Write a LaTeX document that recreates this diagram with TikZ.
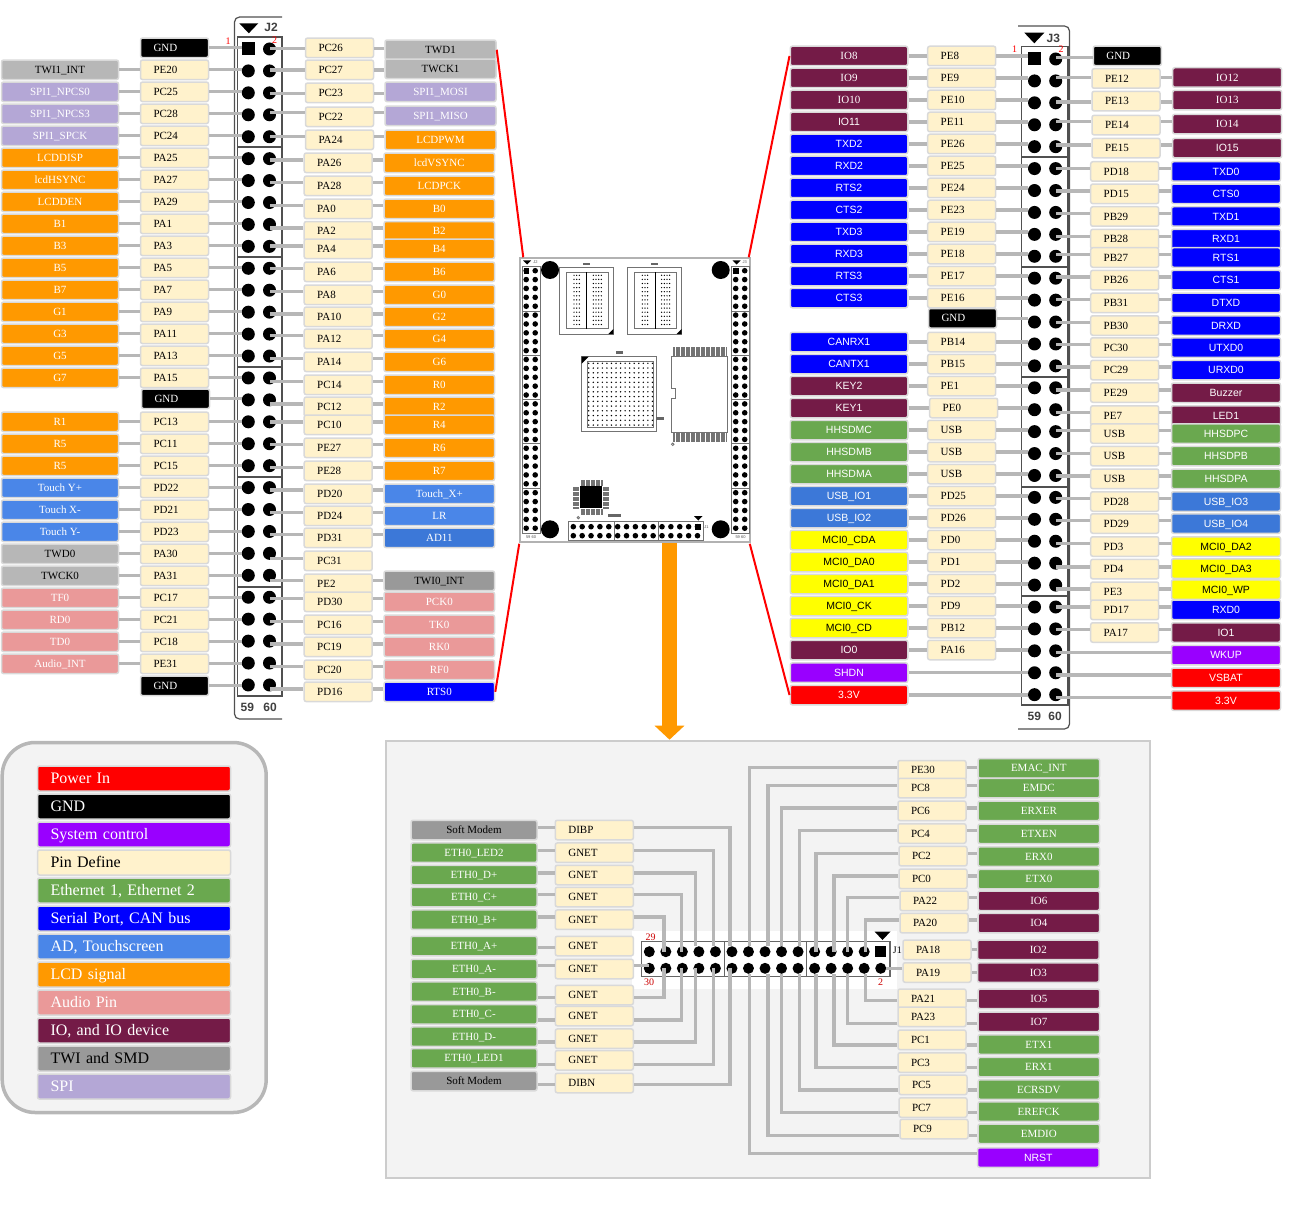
\documentclass[tikz,border=0pt]{standalone}
\usepackage{xcolor}
\usepackage{fontspec}
\usepackage{tikz}
\usetikzlibrary{arrows.meta,positioning,calc}
\setmainfont{Liberation Serif}
\setsansfont{Liberation Sans}
\definecolor{boxedge}{HTML}{D9D9D9}
\definecolor{pinfill}{HTML}{FFF2CC}
\definecolor{wiregrey}{HTML}{B7B7B7}
\definecolor{twigrey}{HTML}{B7B7B7}
\definecolor{twidark}{HTML}{999999}
\definecolor{spipurple}{HTML}{B4A7D6}
\definecolor{lcdorange}{HTML}{FF9900}
\definecolor{touchblue}{HTML}{4A86E8}
\definecolor{adblue}{HTML}{3C78D8}
\definecolor{audiopink}{HTML}{EA9999}
\definecolor{serialblue}{HTML}{0000FF}
\definecolor{iowine}{HTML}{741B47}
\definecolor{ethgreen}{HTML}{6AA84F}
\definecolor{syspurple}{HTML}{9900FF}
\definecolor{mciyellow}{HTML}{FFFF00}
\definecolor{powerred}{HTML}{FF0000}
\definecolor{panelgrey}{HTML}{F3F3F3}
\definecolor{hdrgrey}{HTML}{505050}

\begin{document}
\begin{tikzpicture}[
  x=1pt,y=-1pt,
  sigbox/.style={draw=boxedge,rounded corners=2pt,line width=1.5pt,minimum height=19.5pt,inner sep=0pt,text height=7.3pt,text depth=0pt,yshift=-0.8pt,font=\fontsize{11}{13}\selectfont},
  sfbox/.style={sigbox,font=\fontsize{10.5}{13}\selectfont\sffamily},
  pinbox/.style={sigbox,fill=pinfill,align=left,text width=42pt,inner xsep=13pt},
  gnd/.style={pinbox,fill=black,text=white},
  twi/.style={sigbox,fill=twigrey},
  twid/.style={sigbox,fill=twidark},
  spi/.style={sigbox,fill=spipurple,text=white},
  lcd/.style={sigbox,fill=lcdorange,text=white},
  touch/.style={sigbox,fill=touchblue,text=white},
  ad/.style={sigbox,fill=adblue,text=white},
  audio/.style={sigbox,fill=audiopink,text=white},
  serialrm/.style={sigbox,fill=serialblue,text=white},
  serial/.style={sfbox,fill=serialblue,text=white},
  io/.style={sigbox,fill=iowine,text=white},
  iosf/.style={sfbox,fill=iowine,text=white},
  eth/.style={sigbox,fill=ethgreen,text=white},
  hhs/.style={sfbox,fill=ethgreen,text=white},
  usbio/.style={sfbox,fill=adblue,text=white},
  mci/.style={sfbox,fill=mciyellow},
  system/.style={sfbox,fill=syspurple,text=white},
  power/.style={sfbox,fill=powerred,text=white},
  legbox/.style={draw=boxedge,rounded corners=2pt,line width=1.5pt,minimum height=25pt,align=left,text width=167pt,inner xsep=13pt,inner ysep=0pt,text height=10.6pt,text depth=0pt,yshift=-0.2pt,font=\fontsize{16}{18}\selectfont},
  pad/.style={circle,fill=black,minimum size=13pt,inner sep=0pt},
  padsq/.style={rectangle,fill=black,minimum size=13pt,inner sep=0pt},
  wire/.style={draw=wiregrey,line width=3.2pt},
  hdr/.style={draw=hdrgrey,line width=1.2pt},
  hdrlabel/.style={inner sep=0pt,text=black!75,font=\fontsize{12}{13}\selectfont\sffamily\bfseries},
  num/.style={inner sep=0pt,text=red,font=\fontsize{10}{11}\selectfont},
  redline/.style={draw=red,line width=2pt},
  chip/.style={draw=black!55,line width=0.8pt},
  tinylabel/.style={font=\fontsize{4}{5}\selectfont\sffamily,text=hdrgrey,inner sep=0pt}
]
\useasboundingbox (0,0) rectangle (1300,1206);

\node[draw=wiregrey,fill=panelgrey,line width=3.5pt,rounded corners=33pt,minimum width=264pt,minimum height=370pt] (legend) at (134.2,927.5) {};
\foreach \i/\col/\tcol/\txt in {
  1/powerred/white/Power In,
  2/black/white/GND,
  3/syspurple/white/System control,
  4/pinfill/black/Pin Define,
  5/ethgreen/white/{Ethernet 1, Ethernet 2},
  6/serialblue/white/{Serial Port, CAN bus},
  7/touchblue/white/{AD, Touchscreen},
  8/lcdorange/white/LCD signal,
  9/audiopink/white/Audio Pin,
  10/iowine/white/{IO, and IO device},
  11/twidark/black/TWI and SMD,
  12/spipurple/white/SPI}{
  \node[legbox,fill=\col,text=\tcol] (leg\i) at (134,{750.3+28*\i}) {\txt};
}

\node[draw=black!20,fill=panelgrey,line width=2pt,minimum width=764pt,minimum height=437pt] (panel) at (767.7,959.2) {};

\node[draw=black!30,fill=white,line width=1.5pt,minimum width=230pt,minimum height=284pt] (board) at (635,400) {};
\draw[-{Triangle[width=29pt,length=14pt]},draw=lcdorange,fill=lcdorange,line width=15pt] (669.5,0 |- board.south) -- (669.5,0 |- panel.north);

\foreach \x in {522,731.5}{
  \draw[chip] (\x,266.7) rectangle ++(18,266.3);
  \foreach \y in {311,355.3,399.3,443.7,488} \draw[chip] (\x,\y) -- ++(18,0);
  \foreach \i in {0,...,29}{
    \fill ({\x+4.2},{270.7+8.88*\i}) circle (2.8pt);
    \fill ({\x+13.2},{270.7+8.88*\i}) circle (2.8pt);
  }
  \fill ({\x+1},260.5) -- ++(8,0) -- ++(-4,4) -- cycle;
}
\fill[black] (523.5,268.2) rectangle (529,273.5);
\fill[black] (733,268.2) rectangle (738.7,273.5);
\node[tinylabel] (tinyjb) at (535.5,262) {J2};
\node[tinylabel] (tinyjc) at (744.7,262) {J3};
\node[tinylabel] (tinyfl) at (531,536.7) {59 60};
\node[tinylabel] (tinyfr) at (740.5,536.7) {59 60};
\fill (550,270) circle (9pt);
\fill (720.7,270) circle (9pt);
\fill (550,529.3) circle (9pt);
\fill (720.7,529.3) circle (9pt);

\foreach \dx in {0,68.3}{
  \draw[chip] ({559.3+\dx},267) rectangle ({613.3+\dx},334);
  \draw[chip] ({566+\dx},272) rectangle ({608.3+\dx},328.7);
  \draw[line width=1pt] ({586.7+\dx},272) -- ({586.7+\dx},328.7);
  \fill ({613.3+\dx},334) -- ++(-5,0) -- ++(5,-5) -- cycle;
  \foreach \i in {0,...,12}
    \foreach \cx in {574,576.7,579.3,593.3,596,598.7,601.3}
      \fill ({\cx+\dx},{275.3+4.1*\i}) circle (0.7pt);
  \fill[black!60] ({583+\dx},262.5) rectangle ({590+\dx},265);
}
\draw[chip,line width=1.2pt] (581.7,356.7) rectangle (656.7,431.7);
\draw[chip] (587,361.5) rectangle (653,427);
\fill (581.7,356.7) -- ++(7,0) -- ++(-7,7) -- cycle;
\foreach \i in {0,...,14}
  \foreach \j in {0,...,13}
    \fill ({588.7+4.55*\i},{363.3+4.75*\j}) circle (0.8pt);
\fill[black!60] (616,351) rectangle (623,354);
\fill[black!60] (656,417) rectangle (664,420);

\foreach \i in {0,...,42}{
  \draw[black!55,line width=0.6pt] ({673.3+1.25*\i},347) -- ++(0,9);
  \draw[black!55,line width=0.6pt] ({673.3+1.25*\i},433) -- ++(0,9);
}
\draw[chip] (671.7,356) -- (727.7,356) -- (727.7,432.7) -- (671.7,432.7) -- (671.7,398.3) -- (675,398.3) -- (675,388) -- (671.7,388) -- cycle;
\draw[chip] (672.7,444.3) circle (1.3pt);

\foreach \i in {0,...,17}{
  \draw[black!55,line width=0.6pt] ({581+1.25*\i},480) -- ++(0,6);
  \draw[black!55,line width=0.6pt] ({581+1.25*\i},509) -- ++(0,6);
  \draw[black!55,line width=0.6pt] (573.3,{487+1.25*\i}) -- ++(6,0);
  \draw[black!55,line width=0.6pt] (603,{487+1.25*\i}) -- ++(5.5,0);
}
\fill (580,486) rectangle (602.3,508.3);
\draw[chip] (578.3,517.7) circle (1.2pt);
\fill[black!60] (608,514) rectangle (621,517);

\draw[chip] (568.3,521.7) rectangle (703.3,540.7);
\draw[chip] (614.3,521.7) -- (614.3,540.7);
\draw[chip] (658.3,521.7) -- (658.3,540.7);
\foreach \i in {0,...,14}{
  \fill ({573.3+8.87*\i},526.7) circle (2.8pt);
  \fill ({573.3+8.87*\i},535.7) circle (2.8pt);
}
\fill (694.5,523.7) rectangle (700.6,529.8);
\fill (694,516) -- ++(8.5,0) -- ++(-4.2,4.5) -- cycle;
\node[tinylabel] (tinyja) at (706.5,527) {J1};

\draw[hdr] (282,17) -- (240,17) [rounded corners=5pt] -- (234.5,17) -- (234.5,719) -- (282,719);
\draw[hdr] (237.5,37) -- (282,37) -- (282,696) -- (237.5,696) -- cycle;
\foreach \y in {147,257,367,477,587} \draw[hdr] (237.5,\y) -- (282,\y);
\fill (239.3,23.3) -- (258.3,23.3) -- (248.8,33.3) -- cycle;
\node[hdrlabel] (j2title) at (271,27.5) {J2};
\node[hdrlabel] (j2fa) at (247.3,707.7) {59};
\node[hdrlabel] (j2fb) at (270,707.7) {60};
\node[padsq] (j2a1) at (248.3,49) {};
\foreach \i in {2,...,30} \node[pad] (j2a\i) at (248.3,{27.07+21.93*\i}) {};
\foreach \i in {1,...,30} \node[pad] (j2b\i) at (269.5,{27.07+21.93*\i}) {};
\node[num] (j2n1) at (228,41) {1};
\node[num] (j2n2) at (274.5,40) {2};

\draw[hdr] (1018,26) [rounded corners=5pt] -- (1069.5,26) -- (1069.5,729) -- (1018,729);
\draw[hdr] (1021.7,46.7) rectangle (1068,705);
\foreach \y in {157,267,377,487,596} \draw[hdr] (1021.7,\y) -- (1068,\y);
\fill (1024.3,32.7) -- (1044.3,32.7) -- (1034.3,43.3) -- cycle;
\node[hdrlabel] (j3title) at (1053.3,38.3) {J3};
\node[hdrlabel] (j3fa) at (1034.3,716.7) {59};
\node[hdrlabel] (j3fb) at (1055,716.7) {60};
\node[padsq] (j3a1) at (1034.5,59) {};
\foreach \i in {2,...,30} \node[pad] (j3a\i) at (1034.5,{37.08+21.92*\i}) {};
\foreach \i in {1,...,30} \node[pad] (j3b\i) at (1055.7,{37.08+21.92*\i}) {};
\node[num] (j3n1) at (1014.5,49) {1};
\node[num] (j3n2) at (1061,49) {2};

\node[gnd] (j2p1) at (174.5,47) {GND};
\draw[wire] (j2p1) -- (j2p1.east -| j2a1.west);
\foreach \i/\y/\pin/\sig/\kind in {
  2/69/PE20/TWI1\_INT/twi,
  3/91/PC25/SPI1\_NPCS0/spi,
  4/113/PC28/SPI1\_NPCS3/spi,
  5/135/PC24/SPI1\_SPCK/spi,
  6/157/PA25/LCDDISP/lcd,
  7/179/PA27/lcdHSYNC/lcd,
  8/201/PA29/LCDDEN/lcd,
  9/223/PA1/B1/lcd,
  10/245/PA3/B3/lcd,
  11/267/PA5/B5/lcd,
  12/289/PA7/B7/lcd,
  13/311/PA9/G1/lcd,
  14/333/PA11/G3/lcd,
  15/355/PA13/G5/lcd,
  16/377/PA15/G7/lcd,
  18/421/PC13/R1/lcd,
  19/443/PC11/R5/lcd,
  20/465/PC15/R5/lcd,
  21/487/PD22/Touch Y+/touch,
  22/509/PD21/Touch X-/touch,
  23/531/PD23/Touch Y-/touch,
  24/553/PA30/TWD0/twi,
  25/575/PA31/TWCK0/twi,
  26/597/PC17/TF0/audio,
  27/619/PC21/RD0/audio,
  28/641/PC18/TD0/audio,
  29/663/PE31/Audio\_INT/audio}{
  \node[pinbox] (j2p\i) at (174.5,\y) {\pin};
  \node[\kind,minimum width=117pt] (j2s\i) at (60,\y) {\sig};
  \draw[wire] (j2s\i) -- (j2p\i);
  \draw[wire] (j2p\i) -- (j2p\i.east -| j2a\i.west);
}
\node[gnd] (j2p17) at (175.5,398) {GND};
\draw[wire] (j2p17) -- (j2p17.east -| j2a17.west);
\node[gnd] (j2p30) at (174.5,685) {GND};
\draw[wire] (j2p30) -- (j2p30.east -| j2a30.west);

\foreach \i/\py/\sy/\ly/\pin/\sig/\kind in {
  1/47/49/48.7/PC26/TWD1/twi,
  2/69/68/70/PC27/TWCK1/twi,
  3/92/91/93.3/PC23/SPI1\_MOSI/spi,
  4/116/115/112.7/PC22/SPI1\_MISO/spi,
  5/139/139/136.7/PA24/LCDPWM/lcd}{
  \node[pinbox] (j2q\i) at (339.5,\py) {\pin};
  \node[\kind,minimum width=111pt] (j2r\i) at (440.5,\sy) {\sig};
  \draw[wire] (j2r\i.west |- 0,\ly) -- (j2q\i.east |- 0,\ly);
  \draw[wire] (j2q\i.west |- 0,\ly) -- (j2b\i |- 0,\ly);
}
\foreach \i/\py/\sy/\ly/\pin/\sig/\kind in {
  6/162/162/160/PA26/lcdVSYNC/lcd,
  7/185/185/182.7/PA28/LCDPCK/lcd,
  8/208/208/205.7/PA0/B0/lcd,
  9/230.5/230.5/228/PA2/B2/lcd,
  10/248/248/246/PA4/B4/lcd,
  11/271/271/268.7/PA6/B6/lcd,
  12/294/294/291.3/PA8/G0/lcd,
  13/316/316/314/PA10/G2/lcd,
  14/338/338/335.7/PA12/G4/lcd,
  15/361/361/358.7/PA14/G6/lcd,
  16/384/384/381.3/PC14/R0/lcd,
  17/406/406/404/PC12/R2/lcd,
  18/424/424/422/PC10/R4/lcd,
  19/447/447/444.7/PE27/R6/lcd,
  20/470/470/467.3/PE28/R7/lcd,
  21/493/493/490/PD20/Touch\_X+/touch,
  22/515/515/512.7/PD24/LR/touch,
  23/537/537/534.7/PD31/AD11/ad,
  25/583/580/580.7/PE2/TWI0\_INT/twid,
  26/601/601/598.7/PD30/PCK0/audio,
  27/624/624/621.3/PC16/TK0/audio,
  28/646/646/644/PC19/RK0/audio,
  29/669/669/666.7/PC20/RF0/audio,
  30/691/691/689/PD16/RTS0/serialrm}{
  \node[pinbox] (j2q\i) at (338.2,\py) {\pin};
  \node[\kind,minimum width=110.5pt] (j2r\i) at (439.3,\sy) {\sig};
  \draw[wire] (j2r\i.west |- 0,\ly) -- (j2q\i.east |- 0,\ly);
  \draw[wire] (j2q\i.west |- 0,\ly) -- (j2b\i |- 0,\ly);
}
\node[pinbox] (j2q24) at (338.2,560) {PC31};
\draw[wire] (j2q24.west |- 0,558.3) -- (j2b24 |- 0,558.3);

\foreach \i/\y/\pin/\sig/\kind in {
  1/55.2/PE8/IO8/io,
  2/77.2/PE9/IO9/io,
  3/99.2/PE10/IO10/io,
  4/121.2/PE11/IO11/iosf,
  5/143.2/PE26/TXD2/serial,
  6/165.2/PE25/RXD2/serial,
  7/187.2/PE24/RTS2/serial,
  8/209.2/PE23/CTS2/serial,
  9/231.2/PE19/TXD3/serial,
  10/253.2/PE18/RXD3/serial,
  11/275.2/PE17/RTS3/serial,
  12/297.2/PE16/CTS3/serial,
  14/341.2/PB14/CANRX1/serial,
  15/363.2/PB15/CANTX1/serial,
  16/385.2/PE1/KEY2/iosf,
  18/429.2/USB/HHSDMC/hhs,
  19/451.2/USB/HHSDMB/hhs,
  20/473.2/USB/HHSDMA/hhs,
  21/495.2/PD25/USB\_IO1/usbio,
  22/517.2/PD26/USB\_IO2/usbio,
  23/539.2/PD0/MCI0\_CDA/mci,
  24/561.2/PD1/MCI0\_DA0/mci,
  25/583.2/PD2/MCI0\_DA1/mci,
  26/605.2/PD9/MCI0\_CK/mci,
  27/627.2/PB12/MCI0\_CD/mci,
  28/649.2/PA16/IO0/iosf}{
  \node[pinbox] (j3p\i) at (961.7,\y) {\pin};
  \node[\kind,minimum width=117.5pt] (j3s\i) at (849,\y) {\sig};
  \draw[wire] (j3s\i) -- (j3p\i);
  \draw[wire] (j3p\i) -- (j3p\i.east -| j3a\i.west);
}
\node[gnd] (j3p13) at (962.5,317.5) {GND};
\draw[wire] (j3p13) -- (j3p13.east -| j3a13.west);
\node[pinbox] (j3p17) at (963.7,407.2) {PE0};
\node[iosf,minimum width=117.5pt] (j3s17) at (849,407.2) {KEY1};
\draw[wire] (j3s17) -- (j3p17);
\draw[wire] (j3p17) -- (j3p17.east -| j3a17.west);
\node[system,minimum width=117.5pt] (j3s29) at (849,671.9) {SHDN};
\draw[wire] (j3s29) -- (j3s29.east -| j3a29.west);
\node[power,minimum width=117.5pt] (j3s30) at (849,694.2) {3.3V};
\draw[wire] (j3s30) -- (j3s30.east -| j3a30.west);

\node[gnd] (j3q1) at (1127.3,55) {GND};
\draw[wire] (j3q1.west |- 0,57.3) -- (j3b1 |- 0,57.3);
\foreach \i/\py/\sy/\ly/\pin/\sig/\kind in {
  2/77.7/76.7/77.7/PE12/IO12/io,
  3/100.3/99.3/102/PE13/IO13/io,
  4/124.3/123.3/121.7/PE14/IO14/io,
  5/147.3/147.3/145/PE15/IO15/iosf}{
  \node[pinbox] (j3q\i) at (1126,\py) {\pin};
  \node[\kind,minimum width=109pt] (j3r\i) at (1227.2,\sy) {\sig};
  \draw[wire] (j3r\i.west |- 0,\ly) -- (j3q\i.east |- 0,\ly);
  \draw[wire] (j3q\i.west |- 0,\ly) -- (j3b\i |- 0,\ly);
}
\foreach \i/\py/\sy/\ly/\pin/\sig/\kind in {
  6/170.7/170.7/168.3/PD18/TXD0/serial,
  7/193/193/191/PD15/CTS0/serial,
  8/215.7/215.7/213.7/PB29/TXD1/serial,
  9/238.3/238.3/236.7/PB28/RXD1/serial,
  10/256.7/256.7/254.7/PB27/RTS1/serial,
  11/279.3/279.3/277/PB26/CTS1/serial,
  12/302/302/299.7/PB31/DTXD/serial,
  13/324.7/324.7/322.3/PB30/DRXD/serial,
  14/346.7/346.7/344.3/PC30/UTXD0/serial,
  15/369.3/369.3/367/PC29/URXD0/serial,
  16/391.7/392/390/PE29/Buzzer/iosf,
  17/414.7/414.7/412.7/PE7/LED1/iosf,
  18/432.7/432.7/430.7/USB/HHSDPC/hhs,
  19/455.3/455.3/453.3/USB/HHSDPB/hhs,
  20/478/478/476/USB/HHSDPA/hhs,
  21/500.7/500.7/498.7/PD28/USB\_IO3/usbio,
  22/522.7/522.7/520.7/PD29/USB\_IO4/usbio,
  23/545.7/545.7/543.7/PD3/MCI0\_DA2/mci,
  24/568.3/567.7/567/PD4/MCI0\_DA3/mci,
  25/591/588.7/589/PE3/MCI0\_WP/mci,
  26/609/609/607/PD17/RXD0/serial,
  27/631.7/631.7/629.7/PA17/IO1/iosf}{
  \node[pinbox] (j3q\i) at (1124.7,\py) {\pin};
  \node[\kind,minimum width=109pt] (j3r\i) at (1226,\sy) {\sig};
  \draw[wire] (j3r\i.west |- 0,\ly) -- (j3q\i.east |- 0,\ly);
  \draw[wire] (j3q\i.west |- 0,\ly) -- (j3b\i |- 0,\ly);
}
\foreach \i/\sy/\ly/\sig/\kind in {
  28/654.3/652.3/WKUP/system,
  29/677/675/VSBAT/power,
  30/699.7/697.7/3.3V/power}{
  \node[\kind,minimum width=109pt] (j3r\i) at (1226,\sy) {\sig};
  \draw[wire] (j3r\i.west |- 0,\ly) -- (j3b\i |- 0,\ly);
}

\draw[redline] (j2r1.east) -- ([xshift=4pt]board.north west);
\draw[redline] (j2r30.east) -- ([yshift=-1pt]board.south west);
\draw[redline] (j3s1.west) -- ([xshift=-2pt]board.north east);
\draw[redline] (j3s30.west) -- ([xshift=-1pt,yshift=-1pt]board.south east);

\fill[white] (632,931) rectangle (897,989);
\draw[hdr,draw=black!60] (641.7,941.7) rectangle (890,976.7);
\draw[hdr,draw=black!60] (724.3,941.7) -- (724.3,976.7);
\draw[hdr,draw=black!60] (806.7,941.7) -- (806.7,976.7);
\foreach \c in {1,...,14} \node[pad,minimum size=11pt] (j1a\c) at ({632.77+16.53*\c},951.7) {};
\node[padsq,minimum size=11pt] (j1a15) at (880.7,951.7) {};
\foreach \c in {1,...,15} \node[pad,minimum size=11pt] (j1b\c) at ({632.77+16.53*\c},968.3) {};
\fill (874.5,931.5) -- (890.5,931.5) -- (882.5,940) -- cycle;
\node[inner sep=0pt,font=\fontsize{10}{11}\selectfont] (j1title) at (897.3,950.7) {J1};
\node[num,text=red!80!black] (j1n29) at (650.7,937.3) {29};
\node[num,text=red!80!black] (j1n30) at (649,982.3) {30};
\node[num,text=red!80!black] (j1n2) at (880.7,981.7) {2};

\foreach \i/\py/\sy/\ly/\vx/\pad/\pin/\sig/\kind in {
  1/829.2/829.2/827.7/730/j1a6.north/DIBP/Soft Modem/twid,
  2/851.9/851.9/850.3/713.7/j1a5.north/GNET/ETH0\_LED2/eth,
  3/874.2/874.2/873/695.7/j1a4.north/GNET/ETH0\_D+/eth,
  4/896.2/896.2/894.7/681.7/j1a3/GNET/ETH0\_C+/eth,
  5/918.9/918.9/917/664/j1a2/GNET/ETH0\_B+/eth,
  8/994.2/990.9/997.3/664/j1b2/GNET/ETH0\_B-/eth,
  9/1015.2/1013.5/1020/681.7/j1b3/GNET/ETH0\_C-/eth,
  10/1037.9/1035.9/1042/695.7/j1b4/GNET/ETH0\_D-/eth,
  11/1059.5/1057.5/1064.3/713.7/j1b5/GNET/ETH0\_LED1/eth,
  12/1082.2/1080.2/1084.7/730/j1b6/DIBN/Soft Modem/twid}{
  \node[pinbox,text width=52pt] (pl\i) at (594.3,\py) {\pin};
  \node[\kind,minimum width=126pt] (sl\i) at (474,\sy) {\sig};
  \draw[wire] (sl\i.east |- 0,\ly) -- (pl\i.west |- 0,\ly);
  \draw[wire] (pl\i.east |- 0,\ly) -- (\vx,\ly) -- (\vx,0 |- \pad);
}
\node[pinbox,text width=52pt] (pl6) at (594.3,945.2) {GNET};
\node[eth,minimum width=126pt] (sl6) at (474,945.2) {ETH0\_A+};
\draw[wire] (sl6.east |- 0,947.3) -- (pl6.west |- 0,947.3);
\node[pinbox,text width=52pt] (pl7) at (594.3,968.2) {GNET};
\node[eth,minimum width=126pt] (sl7) at (474,968.2) {ETH0\_A-};
\draw[wire] (sl7.east |- 0,965.3) -- (pl7.west |- 0,965.3);
\draw[wire] (pl7.east |- 0,965.3) -- (j1b1 |- 0,965.3);

\foreach \i/\px/\py/\sy/\ly/\vx/\pad/\pin/\sig/\kind in {
  1/932/769.5/767.5/767.3/749.7/j1a7.north/PE30/EMAC\_INT/eth,
  2/932/787.3/787.3/785.3/768/j1a8.north/PC8/EMDC/eth,
  3/932/810/810/808/781.3/j1a9.north/PC6/ERXER/eth,
  4/932/832.7/833/830.7/799.3/j1a10.north/PC4/ETXEN/eth,
  5/933/855.3/855.7/853.3/816/j1a11/PC2/ERX0/eth,
  6/933/878/878.3/876/834/j1a12/PC0/ETX0/eth,
  7/934/900/900/897.3/847.3/j1a13/PA22/IO6/io,
  8/934/922.3/922.3/920/865.7/j1a14/PA20/IO4/io,
  11/932/998/998/1000.7/865.7/j1b14.south/PA21/IO5/io,
  12/932/1016/1021/1023.3/847.3/j1b13.south/PA23/IO7/io,
  13/932/1039/1043.7/1045/834/j1b12.south/PC1/ETX1/eth,
  14/932/1061.7/1066.3/1067.7/816/j1b11.south/PC3/ERX1/eth,
  15/933/1084/1088.7/1090/799.3/j1b10.south/PC5/ECRSDV/eth,
  16/933/1106.7/1110.7/1112.7/781.3/j1b9.south/PC7/EREFCK/eth,
  17/934/1128.3/1133/1135.7/768/j1b8.south/PC9/EMDIO/eth}{
  \node[pinbox] (pr\i) at (\px,\py) {\pin};
  \node[\kind,minimum width=121.5pt] (sr\i) at (1038.8,\sy) {\sig};
  \draw[wire] (sr\i.west |- 0,\ly) -- (pr\i.east |- 0,\ly);
  \draw[wire] (pr\i.west |- 0,\ly) -- (\vx,\ly) -- (\vx,0 |- \pad);
}
\node[pinbox] (pr9) at (937,949) {PA18};
\node[io,minimum width=121.5pt] (sr9) at (1038.3,949) {IO2};
\draw[wire] (sr9) -- (pr9);
\node[pinbox] (pr10) at (937,971.7) {PA19};
\node[io,minimum width=121.5pt] (sr10) at (1038.3,971.7) {IO3};
\draw[wire] (sr10) -- (pr10);
\draw[wire] (pr10.west |- 0,968.3) -- (j1b15);
\node[system,minimum width=121.5pt] (sr18) at (1038.3,1156.7) {NRST};
\draw[wire] (sr18.west |- 0,1153.7) -- (749.7,1153.7) -- (749.7,0 |- j1b7.south);
\end{tikzpicture}
\end{document}
